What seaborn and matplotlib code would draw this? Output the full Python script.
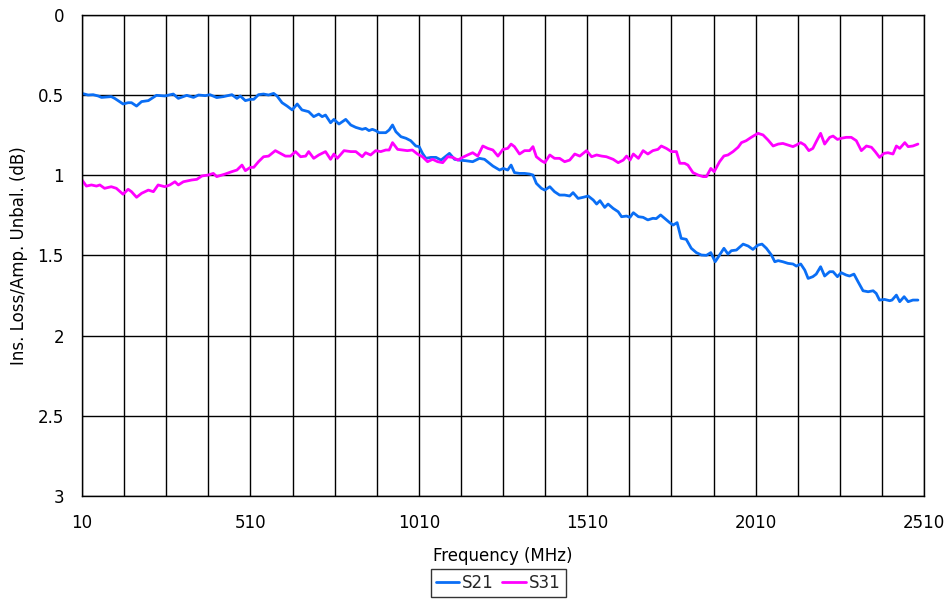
import numpy as np
import pandas as pd
import seaborn as sns
import matplotlib
matplotlib.use("Agg")
import matplotlib.pyplot as plt
from matplotlib.ticker import MultipleLocator

sns.set_theme(style="white")
plt.rcParams['font.family'] = ['DejaVu Sans']

# S21 trace (frequency in MHz, loss in dB)
s21_freq = [10, 28, 43, 58, 68, 97, 107, 132, 147, 157, 172, 187, 207, 231, 256, 281, 296, 321, 341, 356,
            376, 390, 410, 430, 455, 470, 480, 495, 510, 520, 534, 549, 564, 579, 589, 604, 619, 634, 649,
            663, 683, 698, 713, 723, 733, 748, 758, 773, 793, 808, 823, 842, 852, 862, 872, 882, 892, 912,
            922, 932, 942, 957, 972, 986, 1001, 1011, 1021, 1031, 1046, 1061, 1076, 1091, 1101, 1116, 1130,
            1150, 1170, 1190, 1205, 1220, 1230, 1250, 1261, 1274, 1284, 1294, 1309, 1324, 1339, 1349, 1359,
            1374, 1384, 1399, 1413, 1428, 1443, 1458, 1468, 1483, 1498, 1513, 1528, 1538, 1548, 1562, 1572,
            1587, 1602, 1612, 1627, 1637, 1647, 1662, 1676, 1690, 1705, 1715, 1728, 1740, 1755, 1765, 1777,
            1789, 1804, 1819, 1834, 1849, 1864, 1877, 1890, 1903, 1916, 1928, 1938, 1953, 1973, 1988, 2002,
            2017, 2029, 2042, 2057, 2067, 2077, 2091, 2106, 2121, 2131, 2144, 2156, 2166, 2180, 2190, 2203,
            2215, 2230, 2240, 2253, 2264, 2279, 2289, 2302, 2314, 2329, 2344, 2359, 2368, 2378, 2393, 2408,
            2415, 2428, 2438, 2451, 2463, 2477, 2492]
s21_loss = [0.489, 0.499, 0.497, 0.505, 0.514, 0.509, 0.520, 0.555, 0.547, 0.547, 0.568, 0.540, 0.534, 0.501,
            0.505, 0.493, 0.520, 0.501, 0.514, 0.499, 0.503, 0.497, 0.515, 0.509, 0.497, 0.520, 0.505, 0.534,
            0.526, 0.526, 0.497, 0.493, 0.499, 0.489, 0.505, 0.547, 0.568, 0.592, 0.555, 0.592, 0.603, 0.634,
            0.618, 0.634, 0.624, 0.672, 0.651, 0.680, 0.651, 0.686, 0.701, 0.713, 0.707, 0.721, 0.713, 0.721,
            0.734, 0.734, 0.717, 0.686, 0.728, 0.759, 0.769, 0.784, 0.817, 0.821, 0.863, 0.894, 0.888, 0.888,
            0.905, 0.880, 0.863, 0.900, 0.905, 0.909, 0.915, 0.894, 0.900, 0.925, 0.942, 0.967, 0.957, 0.967,
            0.936, 0.983, 0.988, 0.988, 0.992, 0.998, 1.050, 1.081, 1.092, 1.071, 1.102, 1.123, 1.123, 1.129,
            1.108, 1.144, 1.137, 1.129, 1.154, 1.179, 1.158, 1.200, 1.179, 1.206, 1.227, 1.258, 1.254, 1.262,
            1.233, 1.258, 1.262, 1.278, 1.268, 1.270, 1.247, 1.268, 1.295, 1.310, 1.295, 1.393, 1.399, 1.455,
            1.482, 1.497, 1.499, 1.482, 1.539, 1.497, 1.455, 1.491, 1.470, 1.466, 1.429, 1.441, 1.462, 1.435,
            1.429, 1.455, 1.497, 1.539, 1.532, 1.539, 1.549, 1.553, 1.566, 1.553, 1.591, 1.643, 1.632, 1.616,
            1.570, 1.628, 1.601, 1.601, 1.632, 1.607, 1.622, 1.628, 1.616, 1.663, 1.720, 1.726, 1.720, 1.736,
            1.778, 1.774, 1.782, 1.778, 1.747, 1.788, 1.757, 1.788, 1.778, 1.778]

# S31 trace
s31_freq = [10, 23, 38, 53, 63, 77, 97, 112, 132, 147, 157, 172, 187, 207, 222, 236, 256, 271, 286, 296, 311,
            336, 351, 366, 385, 400, 410, 435, 455, 470, 485, 495, 510, 520, 534, 549, 564, 584, 599, 614,
            629, 644, 659, 674, 683, 698, 713, 733, 748, 758, 768, 788, 808, 823, 842, 852, 867, 882, 897,
            912, 922, 932, 947, 962, 976, 991, 1006, 1021, 1036, 1051, 1066, 1081, 1096, 1111, 1126, 1140,
            1155, 1170, 1185, 1200, 1215, 1230, 1245, 1260, 1274, 1284, 1294, 1309, 1324, 1339, 1349, 1359,
            1374, 1384, 1399, 1413, 1428, 1443, 1458, 1473, 1488, 1508, 1523, 1538, 1553, 1567, 1587, 1602,
            1617, 1627, 1637, 1647, 1662, 1676, 1690, 1705, 1720, 1730, 1745, 1760, 1775, 1785, 1799, 1809,
            1824, 1839, 1854, 1864, 1877, 1887, 1903, 1916, 1928, 1943, 1958, 1968, 1982, 1997, 2017, 2032,
            2047, 2062, 2077, 2091, 2106, 2121, 2131, 2144, 2156, 2168, 2180, 2190, 2203, 2215, 2230, 2240,
            2253, 2264, 2279, 2294, 2309, 2324, 2339, 2354, 2365, 2378, 2391, 2403, 2418, 2428, 2438, 2453,
            2463, 2477, 2492]
s31_loss = [1.029, 1.067, 1.060, 1.067, 1.060, 1.081, 1.071, 1.081, 1.118, 1.087, 1.102, 1.137, 1.112, 1.092,
            1.102, 1.060, 1.071, 1.060, 1.040, 1.060, 1.040, 1.029, 1.025, 1.004, 0.998, 0.988, 1.008, 0.992,
            0.977, 0.967, 0.936, 0.971, 0.950, 0.950, 0.915, 0.884, 0.880, 0.846, 0.863, 0.880, 0.880, 0.852,
            0.884, 0.880, 0.852, 0.894, 0.873, 0.852, 0.900, 0.867, 0.894, 0.846, 0.852, 0.852, 0.884, 0.859,
            0.873, 0.846, 0.852, 0.842, 0.842, 0.796, 0.838, 0.842, 0.846, 0.842, 0.867, 0.884, 0.915, 0.900,
            0.915, 0.921, 0.884, 0.888, 0.905, 0.888, 0.873, 0.859, 0.880, 0.817, 0.832, 0.842, 0.880, 0.838,
            0.832, 0.805, 0.821, 0.867, 0.846, 0.846, 0.821, 0.884, 0.909, 0.921, 0.873, 0.894, 0.894, 0.915,
            0.905, 0.867, 0.880, 0.846, 0.884, 0.873, 0.880, 0.884, 0.900, 0.921, 0.905, 0.880, 0.905, 0.867,
            0.894, 0.846, 0.867, 0.846, 0.838, 0.817, 0.832, 0.852, 0.852, 0.925, 0.925, 0.936, 0.983, 0.998,
            1.008, 1.008, 0.957, 0.977, 0.915, 0.879, 0.873, 0.852, 0.825, 0.796, 0.784, 0.763, 0.738, 0.748,
            0.780, 0.817, 0.805, 0.801, 0.811, 0.821, 0.811, 0.796, 0.811, 0.846, 0.832, 0.790, 0.738, 0.805,
            0.763, 0.755, 0.776, 0.769, 0.763, 0.763, 0.784, 0.846, 0.817, 0.825, 0.852, 0.888, 0.863, 0.859,
            0.867, 0.817, 0.832, 0.796, 0.821, 0.817, 0.805]

df = pd.concat([
    pd.DataFrame({"freq": s21_freq, "loss": s21_loss, "trace": "S21"}),
    pd.DataFrame({"freq": s31_freq, "loss": s31_loss, "trace": "S31"}),
], ignore_index=True)

fig = plt.figure(figsize=(9.49, 6.02), dpi=100)
ax = fig.add_axes([82 / 949, 1 - 496 / 602, (924 - 82) / 949, (496 - 15) / 602])

sns.lineplot(data=df, x="freq", y="loss", hue="trace", ax=ax, sort=False,
             palette={"S21": "#0A6EF5", "S31": "#FF00FF"}, linewidth=2.0, legend=False)

ax.set_xlim(10, 2510)
ax.set_ylim(3, 0)
ax.xaxis.set_minor_locator(MultipleLocator(125, offset=10))
ax.set_yticks([0, 0.5, 1, 1.5, 2, 2.5, 3])
ax.set_yticklabels(["0", "0.5", "1", "1.5", "2", "2.5", "3"])
ax.set_xticks([10, 510, 1010, 1510, 2010, 2510])

ax.grid(True, which="major", axis="y", color="black", linewidth=1.0)
ax.grid(True, which="both", axis="x", color="black", linewidth=1.0)
for s in ax.spines.values():
    s.set_color("black")
    s.set_linewidth(1.0)

ax.tick_params(axis="both", which="major", direction="out", length=5, width=1,
               color="black", labelsize=12, labelcolor="black", pad=8)
ax.tick_params(axis="x", which="minor", length=0)
ax.set_xlabel("Frequency (MHz)", fontsize=12, color="black", labelpad=11)
ax.set_ylabel("Ins. Loss/Amp. Unbal. (dB)", fontsize=12, color="black", labelpad=7)

handles = [plt.Line2D([], [], color="#0A6EF5", lw=2), plt.Line2D([], [], color="#FF00FF", lw=2)]
leg = fig.legend(handles, ["S21", "S31"], loc="center", bbox_to_anchor=(0.525, 0.032), ncol=2,
                 frameon=True, fancybox=False, edgecolor="black", fontsize=12,
                 handlelength=1.4, handletextpad=0.2, columnspacing=0.5, borderpad=0.3)
leg.get_frame().set_linewidth(1.0)

fig.savefig("out.png", dpi=100)
